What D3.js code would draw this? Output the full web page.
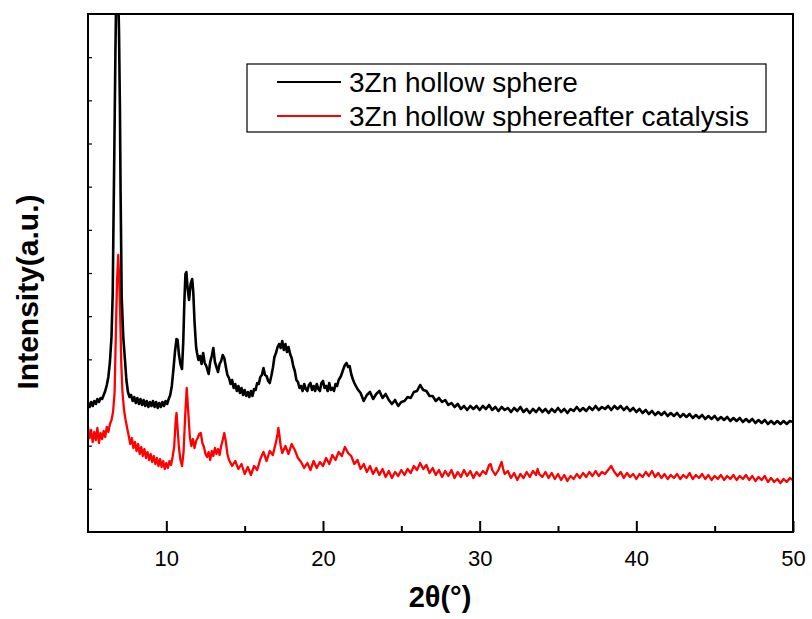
<!DOCTYPE html>
<html>
<head>
<meta charset="utf-8">
<script src="https://cdn.jsdelivr.net/npm/d3@7"></script>
<style>
  body { margin: 0; background: #fff; }
  svg { display: block; font-family: Arial, "Liberation Sans", sans-serif; }
</style>
</head>
<body>
<div id="chart"></div>
<script>
// XRD patterns, [2theta, intensity (a.u.)]
const sphere = [
  [5.0,128],[5.1,125],[5.2,130],[5.3,126],[5.4,131],[5.5,128],[5.6,133],[5.7,130],[5.8,134],[5.9,133],
  [6.0,137],[6.1,141],[6.2,147],[6.3,155],[6.4,170],[6.5,195],[6.58,240],[6.62,300],[6.68,380],[6.75,480],
  [6.82,560],[6.9,560],[6.98,500],[7.04,420],[7.08,340],[7.12,280],[7.15,235],[7.25,195],[7.36,172],[7.45,152],
  [7.55,140],[7.65,135],[7.75,137],[7.85,131],[7.95,135],[8.05,129],[8.15,134],[8.25,128],[8.35,133],[8.45,127],
  [8.55,132],[8.65,126],[8.75,131],[8.85,125],[8.95,130],[9.05,126],[9.15,131],[9.25,125],[9.35,130],[9.45,124],
  [9.55,129],[9.65,125],[9.75,130],[9.85,126],[9.95,131],[10.05,128],[10.15,133],[10.25,137],[10.35,146],[10.45,162],
  [10.55,180],[10.65,193],[10.72,192],[10.8,178],[10.9,168],[11.0,163],[11.08,190],[11.15,230],[11.22,258],[11.28,260],
  [11.35,245],[11.45,232],[11.55,248],[11.65,253],[11.72,240],[11.8,210],[11.9,185],[11.96,179],[12.05,172],[12.15,176],
  [12.25,168],[12.35,179],[12.45,169],[12.55,166],[12.7,158],[12.8,170],[12.9,176],[13.0,184],[13.1,170],[13.2,165],
  [13.3,160],[13.4,168],[13.5,171],[13.6,177],[13.7,174],[13.8,165],[13.9,157],[14.0,154],[14.1,148],[14.2,152],
  [14.3,144],[14.4,148],[14.5,141],[14.6,146],[14.7,139],[14.8,144],[14.9,137],[15.0,142],[15.1,136],[15.2,140],
  [15.3,135],[15.4,141],[15.5,136],[15.6,143],[15.7,142],[15.8,149],[15.9,148],[16.0,155],[16.1,157],[16.2,164],
  [16.3,157],[16.4,156],[16.5,151],[16.6,149],[16.7,156],[16.8,164],[16.9,175],[17.0,179],[17.1,185],[17.2,188],
  [17.3,184],[17.4,191],[17.5,182],[17.6,188],[17.7,180],[17.8,185],[17.9,178],[18.0,174],[18.1,166],[18.2,161],
  [18.3,152],[18.4,150],[18.5,144],[18.6,146],[18.7,141],[18.8,148],[18.9,143],[19.0,141],[19.1,147],[19.2,149],
  [19.3,142],[19.4,146],[19.5,141],[19.6,148],[19.7,143],[19.8,141],[19.9,149],[20.0,151],[20.1,144],[20.2,146],
  [20.3,141],[20.4,149],[20.5,142],[20.6,144],[20.7,141],[20.8,148],[20.9,146],[21.0,152],[21.15,156],[21.3,163],
  [21.4,167],[21.5,169],[21.6,165],[21.7,166],[21.8,158],[21.9,153],[22.0,149],[22.2,143],[22.4,139],[22.6,131],
  [22.8,137],[23.0,140],[23.2,133],[23.4,138],[23.6,141],[23.8,134],[24.0,138],[24.2,132],[24.4,128],[24.6,132],
  [24.8,126],[25.0,130],[25.2,131],[25.4,135],[25.6,134],[25.8,140],[26.0,141],[26.2,147],[26.4,142],[26.6,141],
  [26.8,136],[27.0,136],[27.2,131],[27.4,134],[27.6,130],[27.8,132],[28.0,127],[28.2,129],[28.4,125],[28.6,128],
  [28.8,123],[29.0,126],[29.2,122],[29.4,126],[29.6,123],[29.8,126],[30.0,122],[30.2,126],[30.4,123],[30.6,127],
  [30.8,122],[31.0,125],[31.2,121],[31.4,125],[31.6,122],[31.8,124],[32.0,120],[32.2,124],[32.4,121],[32.6,125],
  [32.8,120],[33.0,123],[33.2,119],[33.4,123],[33.6,120],[33.8,124],[34.0,120],[34.2,123],[34.4,119],[34.6,123],
  [34.8,120],[35.0,124],[35.2,120],[35.4,123],[35.6,119],[35.8,123],[36.0,121],[36.2,125],[36.4,121],[36.6,124],
  [36.8,121],[37.0,125],[37.2,122],[37.4,126],[37.6,122],[37.8,125],[38.0,123],[38.2,126],[38.4,122],[38.6,126],
  [38.8,123],[39.0,126],[39.2,122],[39.4,125],[39.6,121],[39.8,124],[40.0,120],[40.2,123],[40.4,119],[40.6,122],
  [40.8,118],[41.0,121],[41.2,117],[41.4,120],[41.6,117],[41.8,120],[42.0,116],[42.2,119],[42.4,116],[42.6,119],
  [42.8,115],[43.0,118],[43.2,115],[43.4,118],[43.6,114],[43.8,117],[44.0,114],[44.2,117],[44.4,113],[44.6,116],
  [44.8,113],[45.0,116],[45.2,112],[45.4,115],[45.6,112],[45.8,115],[46.0,111],[46.2,114],[46.4,111],[46.6,114],
  [46.8,110],[47.0,113],[47.2,110],[47.4,113],[47.6,109],[47.8,112],[48.0,109],[48.2,112],[48.4,108],[48.6,111],
  [48.8,108],[49.0,111],[49.2,108],[49.4,111],[49.6,108],[49.8,111],[50.0,110]
];

const afterCatalysis = [
  [5.0,105],[5.1,94],[5.2,102],[5.3,90],[5.4,100],[5.5,92],[5.6,104],[5.7,89],[5.8,99],[5.9,93],
  [6.0,101],[6.1,95],[6.2,105],[6.3,100],[6.4,108],[6.5,112],[6.6,120],[6.7,140],[6.78,200],[6.85,250],
  [6.93,277],[7.0,250],[7.05,220],[7.12,170],[7.2,140],[7.3,122],[7.4,112],[7.5,104],[7.6,96],[7.7,88],
  [7.8,94],[7.9,84],[8.0,90],[8.1,81],[8.2,88],[8.3,78],[8.4,85],[8.5,76],[8.6,83],[8.7,74],
  [8.8,80],[8.9,72],[9.0,78],[9.1,70],[9.2,76],[9.3,68],[9.4,74],[9.5,66],[9.6,73],[9.7,65],
  [9.8,71],[9.9,63],[10.0,69],[10.1,64],[10.2,71],[10.3,67],[10.4,75],[10.5,85],[10.6,112],[10.65,119],
  [10.7,108],[10.8,85],[10.9,72],[11.0,66],[11.1,80],[11.2,115],[11.3,144],[11.4,120],[11.5,95],[11.6,86],
  [11.7,93],[11.8,84],[11.9,91],[12.0,94],[12.1,98],[12.2,99],[12.3,89],[12.4,85],[12.5,78],[12.6,75],
  [12.7,80],[12.8,72],[12.9,81],[13.0,76],[13.1,84],[13.2,78],[13.3,83],[13.4,77],[13.5,86],[13.6,92],
  [13.7,99],[13.8,90],[13.9,78],[14.0,72],[14.2,66],[14.4,71],[14.6,63],[14.8,68],[15.0,58],[15.2,65],
  [15.4,57],[15.6,66],[15.8,62],[16.0,73],[16.2,80],[16.4,71],[16.6,81],[16.8,77],[17.0,90],[17.1,98],
  [17.15,104],[17.2,99],[17.3,86],[17.4,79],[17.6,86],[17.8,78],[18.0,88],[18.2,82],[18.4,74],[18.6,70],
  [18.8,64],[19.0,69],[19.2,62],[19.4,71],[19.6,64],[19.8,70],[20.0,66],[20.2,74],[20.4,68],[20.6,77],
  [20.8,72],[21.0,80],[21.2,76],[21.4,85],[21.6,79],[21.8,76],[22.0,68],[22.2,72],[22.4,63],[22.6,68],
  [22.8,60],[23.0,66],[23.2,58],[23.4,64],[23.6,57],[23.8,63],[24.0,55],[24.2,61],[24.4,54],[24.6,60],
  [24.8,56],[25.0,62],[25.2,57],[25.4,63],[25.6,59],[25.8,66],[26.0,62],[26.2,69],[26.4,63],[26.6,67],
  [26.8,59],[27.0,64],[27.2,57],[27.4,62],[27.6,55],[27.8,61],[28.0,56],[28.2,62],[28.4,54],[28.6,60],
  [28.8,55],[29.0,62],[29.2,56],[29.4,61],[29.6,54],[29.8,60],[30.0,56],[30.2,61],[30.4,58],[30.6,67],
  [30.7,68],[30.8,62],[31.0,57],[31.2,62],[31.4,70],[31.5,63],[31.6,58],[31.8,61],[32.0,54],[32.2,59],
  [32.4,52],[32.6,58],[32.8,54],[33.0,60],[33.2,55],[33.4,61],[33.6,57],[33.7,63],[33.8,58],[34.0,55],
  [34.2,60],[34.4,54],[34.6,59],[34.8,53],[35.0,58],[35.2,52],[35.4,57],[35.6,51],[35.8,56],[36.0,53],
  [36.2,58],[36.4,54],[36.6,59],[36.8,55],[37.0,60],[37.2,56],[37.4,61],[37.6,56],[37.8,60],[38.0,58],
  [38.2,62],[38.4,66],[38.6,60],[38.8,56],[39.0,60],[39.2,54],[39.4,59],[39.6,55],[39.8,58],[40.0,53],
  [40.2,58],[40.4,55],[40.6,60],[40.8,56],[41.0,61],[41.2,55],[41.4,59],[41.6,54],[41.8,58],[42.0,53],
  [42.2,57],[42.4,54],[42.6,58],[42.8,53],[43.0,57],[43.2,54],[43.4,59],[43.6,53],[43.8,57],[44.0,54],
  [44.2,58],[44.4,53],[44.6,57],[44.8,52],[45.0,56],[45.2,53],[45.4,57],[45.6,52],[45.8,56],[46.0,53],
  [46.2,57],[46.4,52],[46.6,56],[46.8,53],[47.0,57],[47.2,52],[47.4,56],[47.6,51],[47.8,55],[48.0,52],
  [48.2,56],[48.4,50],[48.6,54],[48.8,50],[49.0,53],[49.2,49],[49.4,53],[49.6,50],[49.8,54],[50.0,52]
];

const seriesNames = ['3Zn hollow sphere', '3Zn hollow sphereafter catalysis'];
const seriesColors = ['#000000', '#ff0000'];
const xMajorTicks = [10, 20, 30, 40, 50];
const xMinorTicks = [15, 25, 35, 45];
const yDomain = [0, 518];
const yTickCount = 12;

const width = 812;
const height = 619;
const marginTop = 14;
const marginRight = 19;
const marginBottom = 87;
const marginLeft = 88;

const svg = d3.select('#chart')
  .append('svg')
  .attr('width', width)
  .attr('height', height)
  .attr('viewBox', [0, 0, width, height]);

const x = d3.scaleLinear()
  .domain([5, 50])
  .range([marginLeft, width - marginRight]);

const y = d3.scaleLinear()
  .domain(yDomain)
  .range([height - marginBottom, marginTop]);

svg.append('clipPath')
  .attr('id', 'plot-clip')
  .append('rect')
  .attr('x', marginLeft)
  .attr('y', marginTop)
  .attr('width', width - marginLeft - marginRight)
  .attr('height', height - marginTop - marginBottom);

const line = d3.line()
  .x(d => x(d[0]))
  .y(d => y(d[1]));

// Draw patterns (red first so black sits above where they meet)
const plot = svg.append('g').attr('clip-path', 'url(#plot-clip)');
plot.append('path')
  .datum(afterCatalysis)
  .attr('fill', 'none')
  .attr('stroke', seriesColors[1])
  .attr('stroke-width', 2.3)
  .attr('stroke-linejoin', 'round')
  .attr('d', line);
plot.append('path')
  .datum(sphere)
  .attr('fill', 'none')
  .attr('stroke', seriesColors[0])
  .attr('stroke-width', 2.6)
  .attr('stroke-linejoin', 'round')
  .attr('d', line);

// Y ticks only (no labels), pointing inward
const yTicks = d3.range(1, yTickCount).map(i => yDomain[0] + i * (yDomain[1] - yDomain[0]) / yTickCount);
svg.append('g')
  .attr('transform', `translate(${marginLeft},0)`)
  .call(d3.axisLeft(y).tickValues(yTicks).tickSize(-4).tickFormat(''))
  .call(g => g.select('.domain').remove())
  .call(g => g.selectAll('line').attr('stroke-width', 1.2));

// X minor ticks
svg.append('g')
  .attr('transform', `translate(0,${height - marginBottom})`)
  .call(d3.axisBottom(x).tickValues(xMinorTicks).tickSize(-6).tickFormat(''))
  .call(g => g.select('.domain').remove())
  .call(g => g.selectAll('line').attr('stroke-width', 2));

// X major ticks with labels
svg.append('g')
  .attr('transform', `translate(0,${height - marginBottom})`)
  .call(d3.axisBottom(x).tickValues(xMajorTicks).tickSize(-11).tickPadding(18))
  .call(g => g.select('.domain').remove())
  .call(g => g.selectAll('line').attr('stroke-width', 2))
  .call(g => g.selectAll('text')
    .attr('font-size', '22px')
    .attr('font-family', 'Arial, "Liberation Sans", sans-serif')
    .attr('fill', '#000'));

// Frame
svg.append('rect')
  .attr('x', marginLeft)
  .attr('y', marginTop)
  .attr('width', width - marginLeft - marginRight)
  .attr('height', height - marginTop - marginBottom)
  .attr('fill', 'none')
  .attr('stroke', '#000')
  .attr('stroke-width', 2);

// Axis titles
svg.append('text')
  .attr('x', 440)
  .attr('y', 607)
  .attr('text-anchor', 'middle')
  .attr('font-size', '29px')
  .attr('font-weight', 'bold')
  .text('2θ(°)');

svg.append('text')
  .attr('transform', 'translate(38,292) rotate(-90)')
  .attr('text-anchor', 'middle')
  .attr('font-size', '30px')
  .attr('font-weight', 'bold')
  .text('Intensity(a.u.)');

// Legend
const legend = svg.append('g').attr('transform', 'translate(247,64)');
legend.append('rect')
  .attr('width', 519)
  .attr('height', 68)
  .attr('fill', '#fff')
  .attr('stroke', '#000')
  .attr('stroke-width', 1.2);

seriesNames.forEach((name, i) => {
  const rowY = 18 + i * 34;
  legend.append('line')
    .attr('x1', 30).attr('x2', 94)
    .attr('y1', rowY).attr('y2', rowY)
    .attr('stroke', seriesColors[i])
    .attr('stroke-width', 2);
  legend.append('text')
    .attr('x', 102)
    .attr('y', rowY)
    .attr('dy', '0.36em')
    .attr('font-size', '28px')
    .text(name);
});
</script>
</body>
</html>
